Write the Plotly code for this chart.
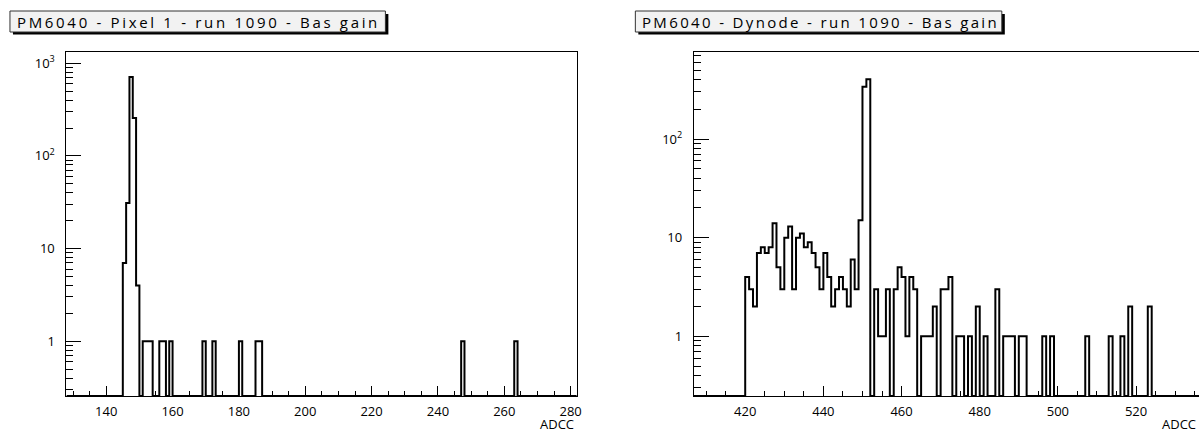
import numpy as np
import plotly.graph_objects as go

W, H = 1204, 432

# ---------------- data ----------------
left_title = "PM6040 - Pixel 1 - run 1090 - Bas gain"
right_title = "PM6040 - Dynode - run 1090 - Bas gain"
x_label = "ADCC"

left_bins = [145, 146, 147, 148, 149, 151, 152, 153, 156, 157, 159,
             169, 172, 180, 185, 186, 247, 263]
left_counts = [7, 31, 710, 256, 4, 1, 1, 1, 1, 1, 1,
               1, 1, 1, 1, 1, 1, 1]

right_bins = [420, 421, 422, 423, 424, 425, 426, 427, 428, 429,
              430, 431, 432, 433, 434, 435, 436, 437, 438, 439,
              440, 441, 442, 443, 444, 445, 446, 447, 448, 449,
              450, 451, 453, 454, 455, 456, 458, 459, 460, 461,
              462, 463, 465, 466, 467, 468, 470, 471, 472, 474,
              475, 477, 479, 481, 484, 486, 487, 488, 490, 491,
              496, 498, 507, 513, 516, 518, 523]
right_counts = [4, 3, 2, 7, 8, 7, 8, 14, 5, 3,
                10, 13, 3, 10, 11, 8, 9, 7, 5, 3,
                7, 4, 2, 3, 4, 3, 2, 6, 3, 15,
                338, 404, 3, 1, 1, 3, 3, 5, 4, 1,
                4, 3, 1, 1, 1, 2, 3, 3, 4, 1,
                1, 1, 2, 1, 3, 1, 1, 1, 1, 1,
                1, 1, 1, 1, 1, 2, 2]

left_hist_range = (128, 282)
right_hist_range = (406, 537)

left_xrange = [128, 281.8]
right_xrange = [406.85, 536.1]
left_yrange = [-0.592, 3.125]
right_yrange = [-0.605, 2.885]

y_major = [1, 10, 100, 1000]
y_major_text = ["1", "10", "10<sup>2</sup>", "10<sup>3</sup>"]

# ---------------- layout helpers ----------------
FONT = "Open Sans"


def px_x(p):
    return p / W


def px_y(p):
    return 1 - p / H


def hist_xy(bins, counts, rng, floor):
    lo, hi = rng
    edges = np.arange(lo, hi + 1)
    c = np.zeros(hi - lo)
    for b, v in zip(bins, counts):
        c[b - lo] = v
    y = np.where(c > 0, c, floor)
    y = np.append(y, y[-1])
    return edges, y


fig = go.Figure()

lx, ly = hist_xy(left_bins, left_counts, left_hist_range, 10 ** left_yrange[0])
rx, ry = hist_xy(right_bins, right_counts, right_hist_range, 10 ** right_yrange[0])

fig.add_trace(go.Scatter(x=lx, y=ly, mode="lines", line=dict(shape="hv", color="black", width=2),
                         xaxis="x", yaxis="y", showlegend=False, hoverinfo="skip"))
fig.add_trace(go.Scatter(x=rx, y=ry, mode="lines", line=dict(shape="hv", color="black", width=2),
                         xaxis="x2", yaxis="y2", showlegend=False, hoverinfo="skip"))

y_dom = [px_y(396), px_y(51.7)]
minor_vals = [k * 10 ** e for e in range(-1, 4) for k in range(2, 10)]
tickfont = dict(family=FONT, size=13, color="black")


def xaxis_cfg(rng, dom, anchor):
    return dict(range=rng, domain=dom, anchor=anchor, showline=True, linecolor="black",
                linewidth=1, mirror=True, ticks="inside", ticklen=10, tickwidth=1,
                tickcolor="black", tick0=0, dtick=20, showgrid=False, zeroline=False,
                tickfont=tickfont, ticklabelstandoff=3,
                minor=dict(dtick=5, tick0=0, ticks="inside", ticklen=5, tickwidth=1,
                           tickcolor="black", showgrid=False))


def yaxis_cfg(rng, anchor, mirror):
    return dict(type="log", range=rng, domain=y_dom, anchor=anchor, showline=True,
                linecolor="black", linewidth=1, mirror=mirror, ticks="inside", ticklen=15,
                tickwidth=1, tickcolor="black", tickvals=y_major, ticktext=y_major_text,
                showgrid=False, zeroline=False, tickfont=tickfont, ticklabelstandoff=8,
                minor=dict(tickvals=minor_vals, ticks="inside", ticklen=7, tickwidth=1,
                           tickcolor="black", showgrid=False))


fig.update_layout(
    width=W, height=H, autosize=False,
    margin=dict(l=0, r=0, t=0, b=0),
    paper_bgcolor="white", plot_bgcolor="white",
    xaxis=xaxis_cfg(left_xrange, [px_x(66.7), px_x(579)], "y"),
    yaxis=yaxis_cfg(left_yrange, "x", True),
    xaxis2=xaxis_cfg(right_xrange, [px_x(696.7), 1.0], "y2"),
    yaxis2=yaxis_cfg(right_yrange, "x2", False),
)

# title boxes
shapes = []
annotations = []
for (x0, x1, txt) in [(10, 387, left_title), (638, 1006, right_title)]:
    shapes.append(dict(type="rect", xref="paper", yref="paper",
                       x0=px_x(x0 + 3), x1=px_x(x1 + 3), y0=px_y(34.5), y1=px_y(14),
                       fillcolor="black", line=dict(width=0), layer="above"))
    shapes.append(dict(type="rect", xref="paper", yref="paper",
                       x0=px_x(x0), x1=px_x(x1), y0=px_y(32), y1=px_y(11),
                       fillcolor="#f2f2f2", line=dict(color="#333333", width=1), layer="above"))
    annotations.append(dict(text=txt, xref="paper", yref="paper", x=px_x(x0 + 5), y=px_y(22),
                            xanchor="left", yanchor="middle", showarrow=False,
                            font=dict(family=FONT, size=15, color="black")))

annotations.append(dict(text=x_label, xref="paper", yref="paper", x=px_x(578), y=px_y(423.5),
                        xanchor="right", yanchor="middle", showarrow=False,
                        font=dict(family=FONT, size=13, color="black")))
annotations.append(dict(text=x_label, xref="paper", yref="paper", x=px_x(1165), y=px_y(423.5),
                        xanchor="left", yanchor="middle", showarrow=False,
                        font=dict(family=FONT, size=13, color="black")))

fig.update_layout(shapes=shapes, annotations=annotations)

post = """
document.documentElement.style.margin = '0';
document.body.style.margin = '0';
document.body.style.overflow = 'hidden';
document.querySelectorAll('.annotation-text').forEach(function(t){
  var s = t.textContent;
  if (s.indexOf('PM6040') !== 0) { return; }
  var target = (s.indexOf('Pixel') > 0) ? 363 : 357;
  var bb = t.getBBox();
  var w0 = t.getComputedTextLength();
  var ls = (target - w0) / s.length;
  t.style.letterSpacing = ls + 'px';
  t.setAttribute('text-anchor', 'start');
  t.setAttribute('x', bb.x);
});
"""

fig.write_html("out.html", post_script=post, config={"displayModeBar": False})
